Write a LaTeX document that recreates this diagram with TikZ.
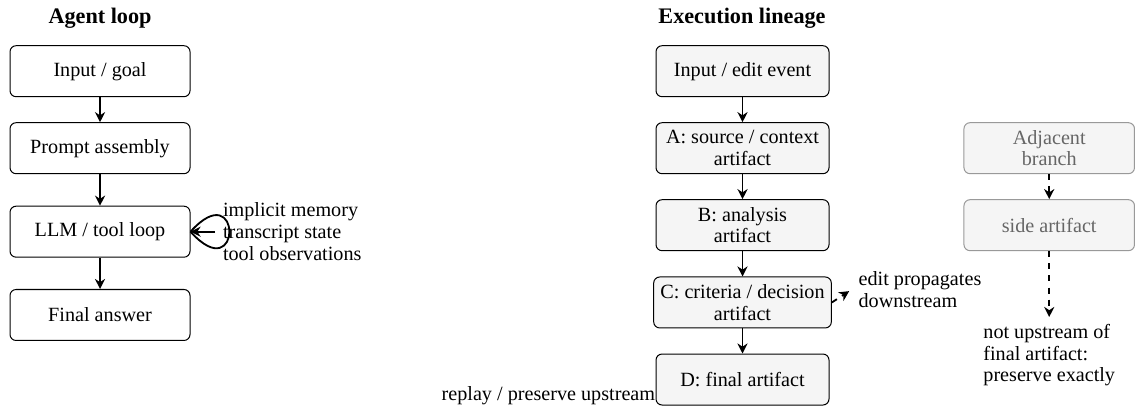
\documentclass[tikz,border=0pt]{standalone}
\usepackage{fontspec}
\setmainfont{Liberation Serif}
\usepackage{xcolor}
\usepackage{tikz}
\usetikzlibrary{arrows.meta, positioning}

\begin{document}
\begin{tikzpicture}[
    box/.style={rectangle, draw, rounded corners=3pt, line width=0.5pt,
                minimum width=3.135cm, minimum height=0.888cm, align=center,
                font=\fontsize{10}{10.8}\selectfont},
    art/.style={box, fill=black!4, minimum width=3.013cm},
    sidebox/.style={art, draw=black!40, text=black!60, minimum width=2.97cm},
    title/.style={font=\fontsize{11}{13}\selectfont\bfseries},
    note/.style={align=left, font=\fontsize{10}{10.8}\selectfont},
    arrow/.style={-{Stealth[length=5pt,width=5pt]}, line width=0.9pt},
    dasharrow/.style={arrow, dashed}]
  \useasboundingbox (0,0) rectangle (19.768,-7.071);
  % agent loop
  \node[title] (agtitle) at (1.742,-0.313) {Agent loop};
  \node[box] (goal) at (1.742,-1.240) {Input / goal};
  \node[box] (prompt) at (1.742,-2.581) {Prompt assembly};
  \node[box] (llm) at (1.742,-4.035) {LLM / tool loop};
  \node[box] (answer) at (1.742,-5.486) {Final answer};
  \draw[arrow] (goal) -- (prompt);
  \draw[arrow] (prompt) -- (llm);
  \draw[arrow] (llm) -- (answer);
  \coordinate (loopin) at (3.745,-4.035);
  \draw[line width=0.9pt] (llm.east) .. controls +(48:1.35) and +(-48:1.35) .. (llm.east);
  \draw[arrow] (loopin) -- (llm.east);
  \node[note, anchor=west] (memory) at (3.76,-4.035)
        {implicit memory\\transcript state\\tool observations};

  % execution lineage
  \node[title] (extitle) at (12.923,-0.313) {Execution lineage};
  \node[art] (edit) at (12.932,-1.240) {Input / edit event};
  \node[art] (srcA) at (12.932,-2.581) {A: source / context\\artifact};
  \node[art] (anaB) at (12.932,-3.922) {B: analysis\\artifact};
  \node[art] (decC) at (12.932,-5.268) {C: criteria / decision\\artifact};
  \node[art] (finD) at (12.932,-6.610) {D: final artifact};
  \draw[arrow] (edit) -- (srcA);
  \draw[arrow] (srcA) -- (anaB);
  \draw[arrow] (anaB) -- (decC);
  \draw[arrow] (decC) -- (finD);
  \coordinate (prop) at (14.79,-5.07);
  \draw[dasharrow] (decC.east) -- (prop);
  \node[note, anchor=west] (proplbl) at (14.83,-5.05)
        {edit propagates\\downstream};
  \node[note, anchor=south east, inner sep=0pt] (replay) at (finD.south west)
        {replay / preserve upstream};

  % adjacent branch
  \node[sidebox] (branch) at (18.274,-2.581) {Adjacent\\branch};
  \node[sidebox] (side) at (18.274,-3.922) {side artifact};
  \draw[dasharrow] (branch) -- (side);
  \coordinate (notup) at (18.274,-5.521);
  \draw[dasharrow] (side) -- (notup);
  \node[note, anchor=north] (notuplbl) at (notup)
        {not upstream of\\final artifact:\\preserve exactly};
\end{tikzpicture}
\end{document}
